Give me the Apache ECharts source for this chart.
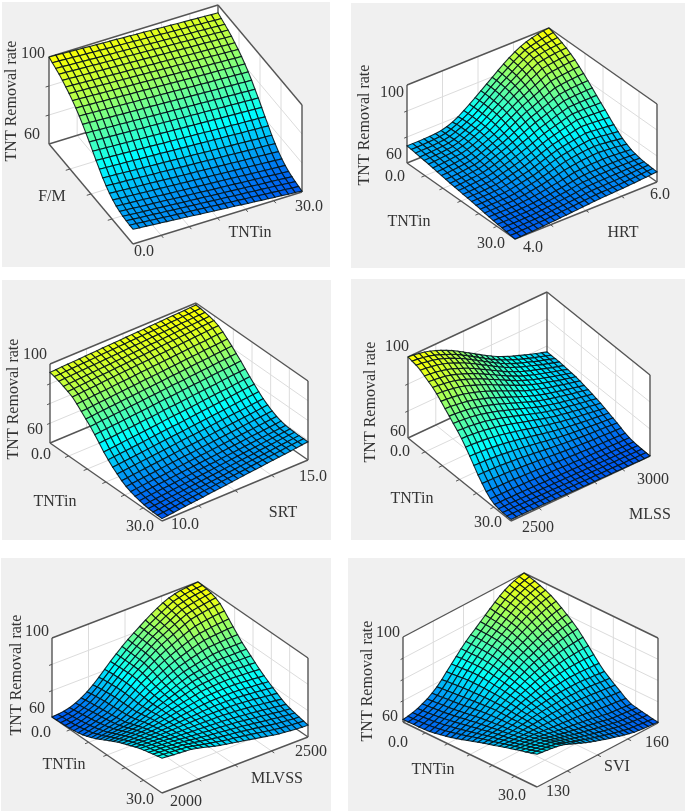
<!DOCTYPE html>
<html>
<head>
<meta charset="utf-8">
<title>TNT Removal rate</title>
<script src="https://cdn.jsdelivr.net/npm/echarts@6/dist/echarts.min.js"></script>
<style>
html, body { margin: 0; padding: 0; background: #fff; }
#chart { width: 685px; height: 811px; }
</style>
</head>
<body>
<div id="chart"></div>
<script>
// TNT removal rate in tenths of a percent.
// rows[j][i]: i runs along the axis going right from the front corner, j along the one going left.
const fmRates = [
[668,665,663,660,658,655,653,650,648,645,642,640,637,635,632,630,627,624,622,619,617,614,612,609,607,604],
[668,666,663,661,658,656,653,651,648,646,644,641,639,636,634,631,629,626,624,622,619,617,614,612,609,607],
[670,668,665,663,661,658,656,653,651,649,646,644,642,639,637,635,632,630,628,625,623,621,618,616,613,611],
[672,670,667,665,663,661,658,656,654,651,649,647,645,642,640,638,636,633,631,629,626,624,622,620,617,615],
[676,674,672,669,667,665,663,661,658,656,654,652,650,647,645,643,641,639,636,634,632,630,628,625,623,621],
[682,680,678,676,674,672,670,667,665,663,661,659,657,655,653,651,649,647,645,642,640,638,636,634,632,630],
[692,690,688,686,684,682,680,678,676,674,672,670,668,666,664,662,660,658,656,654,652,650,648,646,644,642],
[704,702,700,698,696,695,693,691,689,687,685,683,681,680,678,676,674,672,670,668,666,665,663,661,659,657],
[720,718,716,715,713,711,709,707,706,704,702,700,698,697,695,693,691,689,688,686,684,682,680,679,677,675],
[738,736,735,733,731,729,728,726,724,723,721,719,717,716,714,712,710,709,707,705,704,702,700,698,697,695],
[760,758,757,755,754,752,750,749,747,746,744,742,741,739,738,736,734,733,731,730,728,726,725,723,722,720],
[782,780,779,777,776,774,773,771,770,768,766,765,763,762,760,759,757,755,754,752,751,749,748,746,745,743],
[806,804,803,801,800,798,797,795,794,792,791,789,788,786,785,783,782,780,779,777,776,774,773,771,770,768],
[830,829,827,826,824,823,821,820,818,817,815,814,812,811,809,808,806,805,803,802,800,799,797,796,794,793],
[852,851,849,848,846,845,843,842,840,839,837,836,834,833,831,830,828,827,825,824,822,821,819,818,816,815],
[874,873,871,870,868,867,865,864,862,861,860,858,857,855,854,852,851,849,848,846,845,844,842,841,839,838],
[894,893,891,890,888,887,885,884,882,881,880,878,877,875,874,872,871,869,868,866,865,864,862,861,859,858],
[912,911,909,908,906,905,903,902,900,899,898,896,895,893,892,890,889,887,886,884,883,882,880,879,877,876],
[928,927,925,924,922,921,919,918,916,915,914,912,911,909,908,906,905,903,902,900,899,898,896,895,893,892],
[942,941,939,938,936,935,933,932,930,929,928,926,925,923,922,920,919,917,916,914,913,912,910,909,907,906],
[954,953,951,950,948,947,945,944,942,941,940,938,937,935,934,932,931,929,928,926,925,924,922,921,919,918],
[966,965,963,962,960,959,957,956,954,953,952,950,949,947,946,944,943,941,940,938,937,936,934,933,931,930],
[976,975,973,972,970,969,967,966,964,963,962,960,959,957,956,954,953,951,950,948,947,946,944,943,941,940],
[984,983,981,980,978,977,975,974,972,971,970,968,967,965,964,962,961,959,958,956,955,954,952,951,949,948],
[992,991,989,988,986,985,983,982,980,979,978,976,975,973,972,970,969,967,966,964,963,962,960,959,957,956],
[1000,999,997,996,994,993,991,990,988,987,986,984,983,981,980,978,977,975,974,972,971,970,968,967,965,964]
];
const hrtRates = [
[600,601,603,604,606,608,610,612,615,617,620,622,625,627,630,632,634,635,637,638,640,642,645,647,650,652],
[603,604,606,607,609,610,612,615,617,620,622,625,628,630,633,636,637,638,639,640,642,644,646,649,651,653],
[606,607,608,609,611,612,614,617,620,622,625,628,631,634,638,641,642,643,644,645,646,648,650,652,654,655],
[610,611,611,612,613,614,616,619,622,625,628,632,635,639,643,647,648,649,650,651,652,653,654,655,656,657],
[613,614,614,615,616,617,619,622,625,628,632,636,640,644,649,653,655,657,658,659,660,660,660,660,660,660],
[616,617,617,618,619,620,622,625,629,632,636,641,645,650,655,660,663,665,666,667,668,668,667,667,666,666],
[620,621,621,622,623,624,627,630,634,638,643,649,654,660,666,672,675,678,680,681,682,681,679,677,675,673],
[624,625,626,627,628,629,632,636,641,646,651,658,665,672,679,685,689,693,696,698,700,698,695,692,688,685],
[628,629,630,631,632,634,637,642,648,653,659,667,675,683,691,698,703,707,711,714,716,714,711,707,703,699],
[632,633,634,636,637,639,643,649,655,661,667,676,685,694,703,711,716,721,726,730,734,732,729,725,721,718],
[636,637,639,640,642,644,649,655,662,669,676,685,695,705,715,724,730,736,741,747,752,750,747,744,741,738],
[639,641,642,644,647,649,655,662,670,677,685,695,705,716,727,737,744,751,757,764,770,769,767,765,762,760],
[642,644,646,648,651,654,661,669,677,685,694,704,715,727,739,750,758,766,774,781,788,788,787,785,784,782],
[646,648,651,653,656,659,666,675,684,693,703,714,725,737,750,762,771,780,788,797,805,805,805,805,804,804],
[649,651,654,657,660,664,672,681,691,702,712,724,737,749,762,775,784,794,804,813,822,824,825,825,826,826],
[652,654,657,660,664,668,676,687,698,709,720,733,747,761,775,788,798,809,819,830,840,843,845,846,847,848],
[656,658,661,664,668,672,680,691,703,715,727,741,756,771,786,800,811,823,835,847,858,862,865,867,869,870],
[660,662,665,668,672,676,684,695,707,720,733,748,765,781,798,813,825,838,851,864,876,880,884,887,889,891],
[664,666,669,672,676,680,688,699,712,725,739,756,773,790,808,825,839,853,867,881,894,899,903,906,909,911],
[668,670,673,676,680,684,692,703,716,730,744,762,781,799,818,836,851,867,882,897,912,917,921,925,928,930],
[672,674,677,680,683,687,695,706,720,734,748,767,787,806,826,846,863,879,896,912,928,933,937,941,944,946],
[675,677,679,681,685,689,697,708,721,735,750,770,791,811,832,853,871,889,907,924,940,946,951,955,958,960],
[678,679,681,683,686,690,697,708,721,736,751,771,793,814,836,858,877,896,915,933,949,956,962,966,969,972],
[682,683,684,685,688,691,697,708,721,736,752,773,795,817,839,861,881,901,921,939,956,964,970,975,979,982],
[685,685,686,687,689,692,697,707,720,735,752,773,795,818,841,863,884,905,925,943,960,969,976,983,988,992],
[688,688,688,689,690,692,696,704,716,732,752,773,795,818,841,864,887,909,930,948,964,976,985,992,997,1000]
];
const srtRates = [
[612,615,618,622,625,628,631,634,638,641,644,647,650,654,657,660,663,666,670,673,676,679,682,686,689,692],
[613,616,619,622,626,629,632,635,638,641,645,648,651,654,657,660,664,667,670,673,676,679,683,686,689,692],
[614,617,620,623,626,630,633,636,639,642,645,648,651,655,658,661,664,667,670,673,676,680,683,686,689,692],
[616,619,622,625,628,631,634,638,641,644,647,650,653,656,659,662,665,668,671,675,678,681,684,687,690,693],
[619,622,625,628,631,634,637,640,643,646,649,652,655,658,661,664,667,670,673,676,679,682,685,688,691,694],
[624,627,630,633,636,638,641,644,647,650,653,656,659,661,664,667,670,673,676,679,682,684,687,690,693,696],
[630,633,636,639,642,644,647,650,653,656,659,662,665,667,670,673,676,679,682,685,688,690,693,696,699,702],
[638,641,644,647,650,652,655,658,661,664,667,670,673,675,678,681,684,687,690,693,696,698,701,704,707,710],
[648,651,654,657,660,663,666,669,672,675,678,680,683,686,689,692,695,698,701,704,707,710,713,716,719,722],
[662,665,668,671,674,677,680,683,686,689,692,695,697,700,703,706,709,712,715,718,721,724,727,730,733,736],
[680,683,686,689,692,694,697,700,703,706,709,712,715,717,720,723,726,729,732,735,738,740,743,746,749,752],
[698,701,704,707,710,713,716,719,722,725,728,731,733,736,739,742,745,748,751,754,757,760,763,766,769,772],
[720,723,726,729,732,735,738,741,744,747,750,753,755,758,761,764,767,770,773,776,779,782,785,788,791,794],
[744,747,750,753,756,758,761,764,767,770,773,776,779,781,784,787,790,793,796,799,802,804,807,810,813,816],
[772,775,777,780,783,786,788,791,794,796,799,802,805,807,810,813,816,818,821,824,826,829,832,835,837,840],
[800,803,805,808,810,813,815,818,820,823,826,828,831,833,836,838,841,844,846,849,851,854,856,859,861,864],
[826,828,831,833,836,838,840,843,845,848,850,852,855,857,860,862,864,867,869,872,874,876,879,881,884,886],
[848,850,853,855,858,860,862,865,867,870,872,874,877,879,882,884,886,889,891,894,896,898,901,903,906,908],
[870,872,875,877,879,882,884,886,889,891,893,896,898,900,902,905,907,909,912,914,916,919,921,923,926,928],
[892,894,896,899,901,903,905,908,910,912,914,917,919,921,923,926,928,930,932,935,937,939,941,944,946,948],
[912,914,916,918,920,922,925,927,929,931,933,935,937,939,941,943,945,947,949,952,954,956,958,960,962,964],
[924,926,928,930,932,934,936,938,940,942,944,946,948,950,952,954,956,958,960,962,964,966,968,970,972,974],
[934,936,938,940,941,943,945,947,949,951,952,954,956,958,960,962,963,965,967,969,971,973,974,976,978,980],
[944,946,947,949,950,952,954,955,957,958,960,962,963,965,966,968,970,971,973,974,976,978,979,981,982,984],
[952,953,955,956,958,959,960,962,964,965,966,968,969,971,972,974,975,976,978,979,981,982,984,985,987,988],
[958,959,961,962,963,964,966,967,968,970,971,972,973,975,976,977,978,980,981,982,984,985,986,987,989,990]
];
const mlssRates = [
[608,608,608,608,607,607,607,606,606,606,605,605,604,604,603,603,603,602,602,602,601,601,601,600,600,600],
[608,608,608,608,607,607,607,606,606,606,605,605,604,604,603,603,603,602,602,602,601,601,601,600,600,600],
[609,609,609,609,608,608,608,607,607,607,606,606,605,605,604,604,604,603,603,603,602,602,602,601,601,601],
[611,611,611,611,610,610,610,609,609,608,608,607,607,606,606,605,605,604,604,604,603,603,603,603,602,602],
[616,616,616,615,615,615,614,614,613,612,612,611,610,610,609,608,608,607,607,606,606,605,605,605,604,604],
[628,628,627,627,627,626,625,624,623,622,621,620,619,618,616,615,614,613,613,612,611,611,610,609,609,608],
[646,646,645,645,644,643,641,640,638,637,635,633,631,629,627,626,624,623,621,620,619,618,617,616,615,614],
[670,670,669,668,667,665,663,661,659,656,654,651,648,645,643,640,638,636,634,632,630,629,627,626,624,623],
[696,695,694,693,691,689,686,684,681,677,674,670,666,662,659,655,652,649,647,644,642,640,638,636,634,632],
[726,725,724,722,720,717,713,709,705,701,696,691,686,681,676,671,667,663,660,657,654,651,648,645,643,640],
[756,755,753,751,748,744,740,735,730,724,718,712,706,699,693,687,682,677,673,669,665,661,658,655,651,648],
[784,783,781,778,775,770,765,759,753,746,739,732,724,717,710,703,698,691,686,681,676,672,668,664,660,656],
[810,809,806,803,799,794,788,782,775,767,759,750,742,734,725,717,710,703,698,692,687,682,677,673,668,664],
[832,830,828,824,820,815,808,801,793,784,775,766,757,747,738,729,721,714,707,701,696,690,685,680,675,670],
[852,850,847,844,839,833,826,818,810,800,790,780,770,760,750,740,731,724,717,710,704,698,692,687,681,676],
[872,870,867,863,858,851,844,835,826,816,805,794,783,772,762,751,742,733,726,719,712,706,699,694,688,682],
[892,890,886,882,877,870,861,852,843,831,820,808,796,784,772,761,751,742,733,726,719,712,705,699,692,686],
[912,910,906,902,896,888,879,870,859,847,835,822,809,797,784,772,761,751,743,734,727,720,712,705,699,692],
[932,930,926,921,915,907,897,886,875,863,849,835,822,808,795,782,770,760,750,742,734,725,717,710,703,696],
[948,945,941,936,930,921,911,900,888,875,860,846,832,817,803,789,777,766,755,746,738,729,721,713,706,698],
[960,957,953,948,941,932,921,910,898,884,869,854,839,824,809,795,782,770,760,750,741,733,724,716,708,700],
[972,969,965,959,952,943,932,920,907,893,877,862,846,831,815,801,787,775,764,754,745,736,727,718,710,702],
[984,981,976,971,963,954,942,930,917,902,886,869,854,837,821,806,792,780,768,758,749,739,729,721,712,704],
[992,989,984,978,971,961,949,936,923,907,891,874,858,841,825,809,794,782,770,760,750,740,730,722,713,704],
[996,993,988,982,974,964,952,940,926,910,894,877,860,843,826,811,796,783,771,760,750,740,731,722,713,704],
[1000,997,992,986,978,968,956,943,929,913,896,879,862,845,828,812,797,784,772,761,751,741,731,722,713,704]
];
const mlvssRates = [
[776,774,771,769,767,764,758,751,743,735,728,722,717,711,706,700,694,689,683,677,672,669,666,663,661,660],
[771,769,767,765,762,760,754,747,741,735,729,723,718,714,710,705,700,695,689,684,679,675,672,669,667,665],
[766,764,762,760,757,755,750,745,740,735,730,725,721,717,714,710,705,701,696,691,686,682,678,675,672,670],
[760,758,757,755,752,750,746,742,738,734,730,727,724,720,717,714,710,706,702,697,693,689,685,681,678,675],
[754,752,751,749,747,745,742,739,736,733,731,728,726,724,721,719,716,712,708,704,700,696,692,688,684,681],
[748,747,745,744,742,740,738,737,735,733,732,730,729,727,726,724,721,718,715,711,708,704,700,696,692,688],
[740,739,738,737,736,735,734,734,733,733,733,733,733,732,732,731,729,727,725,722,719,715,711,707,703,699],
[731,731,731,730,730,730,731,732,733,734,735,736,737,738,739,739,738,737,736,734,731,728,724,720,717,713],
[722,722,723,723,724,724,726,728,731,733,736,738,740,743,745,747,747,747,746,745,743,740,737,734,730,727],
[713,714,715,716,717,718,721,725,729,733,738,742,745,749,752,755,756,756,756,756,755,752,749,747,744,741],
[704,705,707,708,710,712,716,722,728,734,740,745,750,755,760,764,766,767,768,768,768,766,763,761,758,756],
[692,694,697,699,702,705,711,718,726,733,741,748,755,761,768,774,777,779,781,782,782,781,779,777,775,773],
[680,683,686,690,693,697,705,714,724,734,743,751,760,768,776,783,787,790,793,795,797,797,796,794,793,791],
[668,672,676,680,684,689,698,709,721,733,744,755,765,775,784,793,798,802,806,809,812,812,812,811,811,810],
[656,660,665,670,675,680,691,704,718,732,746,758,769,781,792,802,808,813,819,824,828,829,829,829,829,829],
[644,649,654,660,666,672,685,700,716,733,749,763,776,789,801,812,819,826,832,838,844,846,847,847,848,848],
[634,640,646,653,660,668,682,698,716,735,753,768,783,798,811,824,833,842,850,857,864,866,868,870,871,872],
[625,631,638,646,655,664,680,698,718,738,758,775,792,808,823,836,847,857,867,876,884,887,890,893,895,896],
[617,624,632,641,651,661,678,698,720,742,764,783,801,818,834,848,861,873,884,895,904,908,912,915,918,920],
[612,619,627,636,647,658,676,698,721,745,769,789,808,827,845,861,875,889,902,914,925,930,935,939,943,946],
[608,614,622,632,644,656,675,698,722,747,772,793,814,834,854,872,887,902,917,931,944,950,955,960,964,968],
[605,610,618,628,640,653,673,696,721,747,772,794,816,838,859,879,895,911,926,941,954,961,967,972,977,981],
[603,607,614,624,636,650,670,693,719,745,771,794,817,840,862,883,900,916,932,948,962,970,976,981,986,990],
[602,605,611,620,632,647,667,691,717,744,770,794,818,841,864,885,903,920,937,953,968,976,983,988,992,995],
[601,604,609,617,629,644,664,688,715,742,769,794,819,842,865,887,905,923,941,958,973,981,988,992,995,998],
[600,602,606,613,625,640,659,683,710,739,768,795,821,845,867,888,909,929,947,963,976,985,991,995,998,1000]
];
const sviRates = [
[754,751,748,745,741,736,728,718,708,698,688,679,671,663,655,648,641,634,628,622,616,613,610,608,606,604],
[747,744,741,738,734,730,722,713,704,695,687,679,671,664,657,650,643,637,631,625,620,617,614,611,609,607],
[740,737,734,731,728,725,718,710,702,694,686,679,672,665,659,653,647,641,635,630,625,622,619,616,614,612],
[734,731,728,725,722,719,713,706,699,692,685,678,672,667,661,656,650,645,639,634,629,626,624,621,619,617],
[727,724,722,719,717,714,708,702,696,690,684,679,674,669,665,660,655,650,645,639,634,632,629,627,624,622],
[720,718,715,713,710,708,704,699,695,690,685,681,677,673,669,665,661,656,651,646,641,638,636,633,630,628],
[713,711,710,708,706,704,701,698,695,692,689,686,684,681,679,676,673,669,665,661,657,654,651,648,645,642],
[706,705,703,702,701,700,699,698,697,696,696,695,694,693,691,690,688,685,682,679,676,673,670,667,664,662],
[698,698,698,697,697,697,698,699,700,702,703,704,704,704,704,704,703,701,699,697,695,692,689,686,683,680],
[691,691,692,693,693,694,697,700,703,707,710,712,714,716,717,718,718,717,716,715,713,711,708,705,702,700],
[684,685,687,689,690,692,696,701,706,711,716,720,723,727,729,732,733,733,733,733,732,730,727,725,722,720],
[676,679,682,685,687,690,695,701,708,715,722,727,732,737,741,746,748,750,752,753,753,752,751,749,748,746],
[668,672,675,679,683,687,695,703,711,720,728,735,741,748,754,760,764,767,770,773,775,776,776,776,775,775],
[660,665,669,674,679,685,694,704,714,724,734,743,751,759,767,774,779,784,789,793,797,799,801,802,803,804],
[652,657,663,669,675,682,693,705,716,728,739,749,759,769,778,787,794,800,807,813,819,823,826,828,830,832],
[644,651,657,664,672,680,691,704,717,731,744,756,767,778,789,800,809,817,825,833,840,845,850,854,857,860],
[637,644,651,659,667,676,688,702,717,733,748,761,774,786,799,811,821,830,840,849,857,864,870,875,879,882],
[631,638,645,654,663,672,685,700,717,734,751,766,780,794,808,821,832,843,853,863,872,880,887,893,898,902],
[626,632,640,649,658,668,682,698,716,736,755,771,787,802,817,831,843,855,866,878,888,897,905,912,918,922],
[620,627,635,644,654,664,678,695,715,737,758,776,793,809,825,840,853,866,879,891,903,913,922,930,936,940],
[616,623,631,640,650,660,675,693,714,737,760,779,797,815,832,848,862,876,890,903,916,927,937,945,951,956],
[614,620,627,636,646,657,672,691,713,737,760,780,799,818,836,853,868,883,898,912,926,938,948,956,963,968],
[613,618,625,633,644,655,670,689,711,735,758,779,800,820,838,856,872,888,904,920,935,947,958,966,973,978],
[613,617,623,631,641,652,667,686,708,732,756,779,800,821,840,858,875,892,909,926,942,955,966,975,982,987],
[612,616,621,629,639,650,665,684,706,730,754,778,800,821,841,859,877,895,913,931,947,961,973,982,989,994],
[612,615,620,627,637,648,663,681,703,728,752,776,800,822,842,860,879,898,917,935,952,967,979,988,995,1000]
];

const ratesPerPanel = [fmRates, hrtRates, srtRates, mlssRates, mlvssRates, sviRates];
const rateFloor = 600, rateTop = 1000;
const lowColors = ['#0058f0', '#00ffff'];
const highColors = ['#00ffff', '#ffff00'];
const cyanAt = 0.4;

// picture geometry only: panel box and where the plot box sits in it
const panels = [
    {box: [2, 2, 330, 267], front: [133, 244], right: [302, 192], left: [49, 144], height: 87, uDiv: 6, vDiv: 4, zDiv: 3},
    {box: [351, 3, 685, 268], front: [515, 239], right: [657, 182], left: [407, 163], height: 78, uDiv: 4, vDiv: 6, zDiv: 3},
    {box: [2, 280, 331, 540], front: [162, 521], right: [308, 460], left: [50, 443], height: 79, uDiv: 4, vDiv: 6, zDiv: 4},
    {box: [351, 279, 685, 540], front: [511, 521], right: [650, 456], left: [408, 438], height: 81, uDiv: 5, vDiv: 6, zDiv: 3},
    {box: [1, 558, 331, 811], front: [162, 793], right: [308, 737], left: [52, 717], height: 79, uDiv: 4, vDiv: 6, zDiv: 3},
    {box: [348, 558, 685, 811], front: [537, 787], right: [658, 723], left: [403, 722], height: 85, uDiv: 4, vDiv: 6, zDiv: 4}
];

const axisTitle = 'TNT Removal rate';
const panelLabels = [
    [[axisTitle, 12, 101, 90], ['100', 33, 54], ['60', 32, 135], ['F/M', 52, 197], ['0.0', 144, 252], ['TNTin', 250, 233], ['30.0', 309, 207]],
    [[axisTitle, 365, 125, 90], ['100', 392, 93], ['60', 394, 155], ['0.0', 395, 177], ['TNTin', 409, 222], ['30.0', 491, 244], ['4.0', 533, 248], ['HRT', 623, 233], ['6.0', 660, 195]],
    [[axisTitle, 14, 399, 90], ['100', 35, 355], ['60', 35, 430], ['0.0', 41, 455], ['TNTin', 55, 502], ['30.0', 140, 527], ['10.0', 185, 525], ['SRT', 283, 513], ['15.0', 313, 477]],
    [[axisTitle, 371, 402, 90], ['100', 397, 347], ['60', 398, 432], ['0.0', 400, 452], ['TNTin', 412, 499], ['30.0', 488, 523], ['2500', 538, 528], ['MLSS', 650, 515], ['3000', 653, 480]],
    [[axisTitle, 17, 675, 90], ['100', 37, 632], ['60', 37, 709], ['0.0', 41, 733], ['TNTin', 64, 765], ['30.0', 140, 800], ['2000', 186, 802], ['MLVSS', 277, 779], ['2500', 311, 752]],
    [[axisTitle, 368, 681, 90], ['100', 388, 633], ['60', 390, 717], ['0.0', 398, 743], ['TNTin', 433, 770], ['30.0', 512, 796], ['130', 558, 792], ['SVI', 617, 767], ['160', 657, 743]]
];

function project(p, u, v, rate) {
    const h = (rate - rateFloor) / (rateTop - rateFloor);
    return [
        p.front[0] + u * (p.right[0] - p.front[0]) + v * (p.left[0] - p.front[0]),
        p.front[1] + u * (p.right[1] - p.front[1]) + v * (p.left[1] - p.front[1]) - h * p.height
    ];
}

function surfaceColor(t) {
    return t < cyanAt
        ? echarts.color.lerp(t / cyanAt, lowColors)
        : echarts.color.lerp((t - cyanAt) / (1 - cyanAt), highColors);
}

// backgrounds, walls, grid lines, box edges and ticks
const frameShapes = [];
panels.forEach(function (p) {
    const b = p.box;
    const P = (u, v, h) => project(p, u, v, rateFloor + h * (rateTop - rateFloor));
    const line = (a, c, color, width) => frameShapes.push({points: [a, c], stroke: color, width: width});
    const gridColor = '#dcdcdc', edgeColor = '#555', edge = 1.4;

    frameShapes.push({points: [[b[0], b[1]], [b[2], b[1]], [b[2], b[3]], [b[0], b[3]]], fill: '#f0f0f0'});
    frameShapes.push({points: [P(0, 0, 0), P(1, 0, 0), P(1, 1, 0), P(0, 1, 0)], fill: '#fff'});
    frameShapes.push({points: [P(0, 1, 0), P(1, 1, 0), P(1, 1, 1), P(0, 1, 1)], fill: '#fff'});
    frameShapes.push({points: [P(1, 0, 0), P(1, 1, 0), P(1, 1, 1), P(1, 0, 1)], fill: '#fff'});

    for (let k = 1; k < p.uDiv; k++) {
        const u = k / p.uDiv;
        line(P(u, 0, 0), P(u, 1, 0), gridColor, 1);
        line(P(u, 1, 0), P(u, 1, 1), gridColor, 1);
        line(P(u, 0, 0), P(u, -0.025, 0), edgeColor, 1);
    }
    for (let k = 1; k < p.vDiv; k++) {
        const v = k / p.vDiv;
        line(P(0, v, 0), P(1, v, 0), gridColor, 1);
        line(P(1, v, 0), P(1, v, 1), gridColor, 1);
        line(P(0, v, 0), P(-0.025, v, 0), edgeColor, 1);
    }
    for (let k = 1; k < p.zDiv; k++) {
        const h = k / p.zDiv;
        line(P(0, 1, h), P(1, 1, h), gridColor, 1);
        line(P(1, 0, h), P(1, 1, h), gridColor, 1);
        line(P(0, 1, h), P(-0.02, 1, h), edgeColor, 1);
    }
    line(P(0, 1, 0), P(1, 1, 0), edgeColor, edge);
    line(P(1, 0, 0), P(1, 1, 0), edgeColor, edge);
    line(P(1, 1, 0), P(1, 1, 1), edgeColor, edge);
    line(P(0, 1, 0), P(0, 1, 1), edgeColor, edge);
    line(P(1, 0, 0), P(1, 0, 1), edgeColor, edge);
    line(P(0, 1, 1), P(1, 1, 1), edgeColor, edge);
    line(P(1, 0, 1), P(1, 1, 1), edgeColor, edge);
    line(P(0, 0, 0), P(1, 0, 0), edgeColor, edge);
    line(P(0, 0, 0), P(0, 1, 0), edgeColor, edge);
});

function polygonItem(api, points, style) {
    return {
        type: 'polygon',
        shape: {points: points.map(pt => api.coord(pt))},
        style: style,
        silent: true
    };
}

const frameSeries = {
    type: 'custom',
    coordinateSystem: 'cartesian2d',
    silent: true,
    clip: false,
    animation: false,
    progressive: 0,
    encode: {x: 0, y: 1},
    data: frameShapes.map((s, idx) => [idx, 0]),
    renderItem: function (params, api) {
        const s = frameShapes[params.dataIndex];
        if (s.fill) {
            return polygonItem(api, s.points, {fill: s.fill});
        }
        return {
            type: 'line',
            shape: {
                x1: api.coord(s.points[0])[0], y1: api.coord(s.points[0])[1],
                x2: api.coord(s.points[1])[0], y2: api.coord(s.points[1])[1]
            },
            style: {stroke: s.stroke, lineWidth: s.width, fill: null},
            silent: true
        };
    }
};

function surfaceSeries(p, rows) {
    const lastJ = rows.length - 1, lastI = rows[0].length - 1;
    const flat = rows.flat();
    const low = Math.min(...flat), high = Math.max(...flat);
    const cells = [];
    for (let j = lastJ - 1; j >= 0; j--) {
        for (let i = lastI - 1; i >= 0; i--) {
            cells.push([i, j]);
        }
    }
    // far cells first so the near ones paint over them
    cells.sort((a, c) => (c[0] + c[1]) - (a[0] + a[1]));
    return {
        type: 'custom',
        coordinateSystem: 'cartesian2d',
        silent: true,
        clip: false,
        animation: false,
        progressive: 0,
        encode: {x: 0, y: 1},
        data: cells,
        renderItem: function (params, api) {
            const i = api.value(0), j = api.value(1);
            const corner = (a, c) => project(p, a / lastI, c / lastJ, rows[c][a]);
            const mean = (rows[j][i] + rows[j][i + 1] + rows[j + 1][i] + rows[j + 1][i + 1]) / 4;
            return polygonItem(api, [corner(i, j), corner(i + 1, j), corner(i + 1, j + 1), corner(i, j + 1)], {
                fill: surfaceColor((mean - low) / (high - low)),
                stroke: 'rgba(5,20,25,0.9)',
                lineWidth: 1.1
            });
        }
    };
}

const labelElements = [];
panelLabels.forEach(function (list) {
    list.forEach(function (l) {
        labelElements.push({
            type: 'text',
            x: l[1],
            y: l[2],
            rotation: l[3] ? Math.PI * l[3] / 180 : 0,
            z: 100,
            silent: true,
            style: {
                text: l[0],
                fill: '#333',
                font: '16px "Liberation Serif"',
                align: 'center',
                verticalAlign: 'middle'
            }
        });
    });
});

const chart = echarts.init(document.getElementById('chart'));
chart.setOption({
    animation: false,
    backgroundColor: '#fff',
    grid: {left: 0, right: 0, top: 0, bottom: 0},
    xAxis: {type: 'value', min: 0, max: 685, show: false},
    yAxis: {type: 'value', min: 0, max: 811, inverse: true, show: false},
    graphic: labelElements,
    series: [frameSeries].concat(panels.map((p, idx) => surfaceSeries(p, ratesPerPanel[idx])))
});
</script>
</body>
</html>
